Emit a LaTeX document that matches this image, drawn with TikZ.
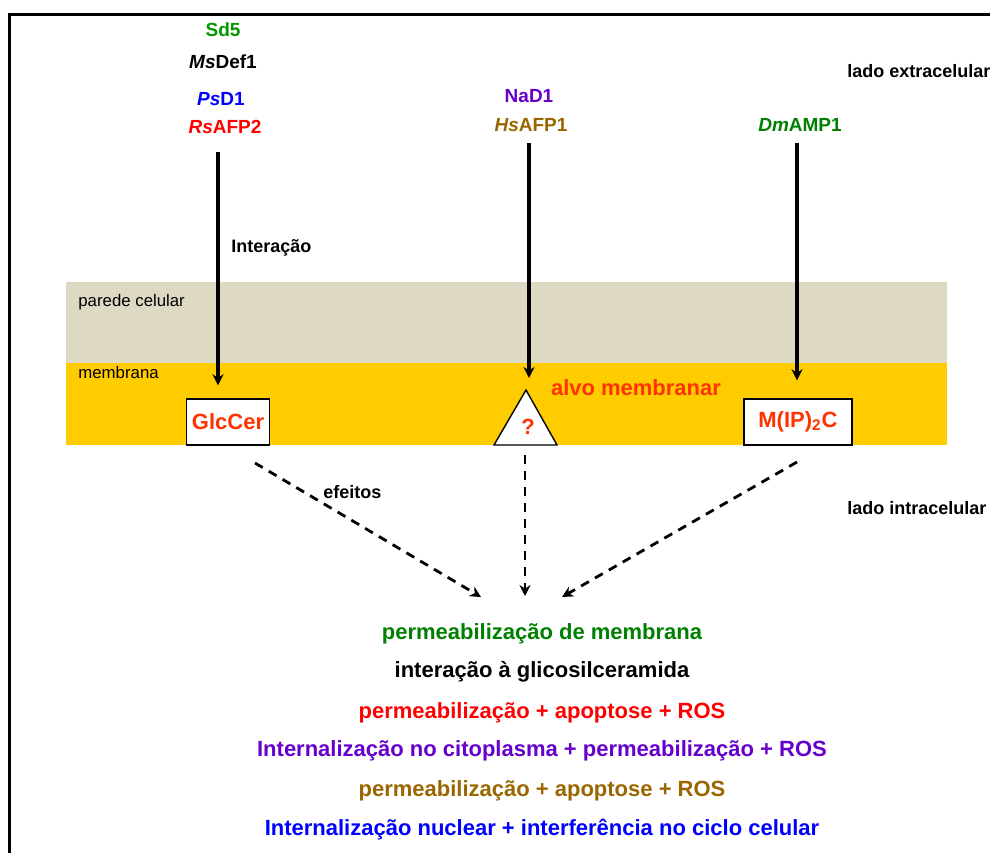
\documentclass[tikz,border=0pt]{standalone}
\usepackage{fontspec}
\setmainfont{Liberation Sans}
\usetikzlibrary{arrows.meta}
\definecolor{parede}{HTML}{DDD9C3}
\definecolor{membr}{HTML}{FFCC00}
\definecolor{alvocor}{HTML}{FF3300}
\definecolor{verde}{HTML}{009900}
\definecolor{verdeesc}{HTML}{008000}
\definecolor{roxo}{HTML}{6600CC}
\definecolor{marrom}{HTML}{996600}
\begin{document}
\begin{tikzpicture}[x=0.5pt, y=-0.5pt, >={Stealth[length=5.5pt,width=5.5pt]},
  rotulo/.style={font=\bfseries\fontsize{9.5}{11}\selectfont, inner sep=0pt},
  lado/.style={font=\bfseries\fontsize{9}{11}\selectfont, inner sep=0pt, anchor=west},
  camada/.style={font=\fontsize{8.4}{9}\selectfont, inner sep=0pt, anchor=west},
  efeito/.style={font=\bfseries\fontsize{11}{13}\selectfont, inner sep=0pt},
  caixa/.style={draw=black, fill=white, line width=0.7pt, minimum height=23pt, inner sep=0pt,
    font=\bfseries\fontsize{11}{13}\selectfont, text=alvocor},
  seta/.style={->, line width=1.7pt},
  tracejada/.style={->, line width=1.4pt, dash pattern=on 4.5pt off 3.5pt}]
\useasboundingbox (0,0) rectangle (990,852);
% moldura
\draw[line width=1.75pt] (9.5,870) -- (9.5,14.5) -- (1010,14.5);
% parede e membrana
\fill[parede] (66,282) rectangle (947,363);
\fill[membr] (66,363) rectangle (947,445);
\node[camada] (parede) at (78,302) {parede celular};
\node[camada] (membrana) at (78,372) {membrana};
% alvos
\node[caixa, minimum width=41.5pt] (glccer) at (228,422) {GlcCer};
\node[caixa, minimum width=54pt] (mipc) at (798,422) {M(IP)\textsubscript{2}C};
\coordinate (tri) at (526,390);
\draw[fill=white, line width=0.7pt] (494,445) -- (tri) -- (557,445) -- cycle;
\node[font=\bfseries\fontsize{11}{13}\selectfont, text=alvocor, inner sep=0pt] (alvo) at (528,427) {?};
\node[font=\bfseries\fontsize{11}{13}\selectfont, text=alvocor, inner sep=0pt] (alvomem) at (636,388) {alvo membranar};
% defensinas
\node[rotulo, text=verde] (sd5) at (223,30) {Sd5};
\node[rotulo] (msdef1) at (223,62) {\textit{Ms}Def1};
\node[rotulo, text=blue] (psd1) at (221,99) {\textit{Ps}D1};
\node[rotulo, text=red] (rsafp2) at (225,127) {\textit{Rs}AFP2};
\node[rotulo, text=roxo] (nad1) at (529,96) {NaD1};
\node[rotulo, text=marrom] (hsafp1) at (531,125) {\textit{Hs}AFP1};
\node[rotulo, text=verdeesc] (dmamp1) at (800,125) {\textit{Dm}AMP1};
\node[lado] (extra) at (847,71) {lado extracelular};
\node[lado] (intra) at (847,508) {lado intracelular};
\node[lado] (interacao) at (231,248) {Interação};
\node[lado] (efeitos) at (323,492) {efeitos};
% setas
\coordinate (i1) at (218,152);
\coordinate (i2) at (529,143);
\coordinate (i3) at (797,143);
\draw[seta, shorten >=6.5pt] (i1) -- (i1 |- glccer.north);
\draw[seta, shorten >=6pt] (i2) -- (i2 |- tri);
\draw[seta, shorten >=9pt] (i3) -- (i3 |- mipc.north);
\coordinate (d1) at (255,463);
\coordinate (d2) at (525,455);
\coordinate (d3) at (797,462);
\coordinate (e1) at (481,597);
\coordinate (e2) at (525,596);
\coordinate (e3) at (562,597);
\draw[tracejada] (d1) -- (e1);
\draw[tracejada] (d2) -- (e2);
\draw[tracejada] (d3) -- (e3);
% efeitos
\node[efeito, text=verdeesc] (ef1) at (542,634) {permeabilização de membrana};
\node[efeito] (ef2) at (542,672) {interação à glicosilceramida};
\node[efeito, text=red] (ef3) at (542,713) {permeabilização + apoptose + ROS};
\node[efeito, text=roxo] (ef4) at (542,751) {Internalização no citoplasma + permeabilização + ROS};
\node[efeito, text=marrom] (ef5) at (542,791) {permeabilização + apoptose + ROS};
\node[efeito, text=blue] (ef6) at (542,830) {Internalização nuclear + interferência no ciclo celular};
\end{tikzpicture}
\end{document}
